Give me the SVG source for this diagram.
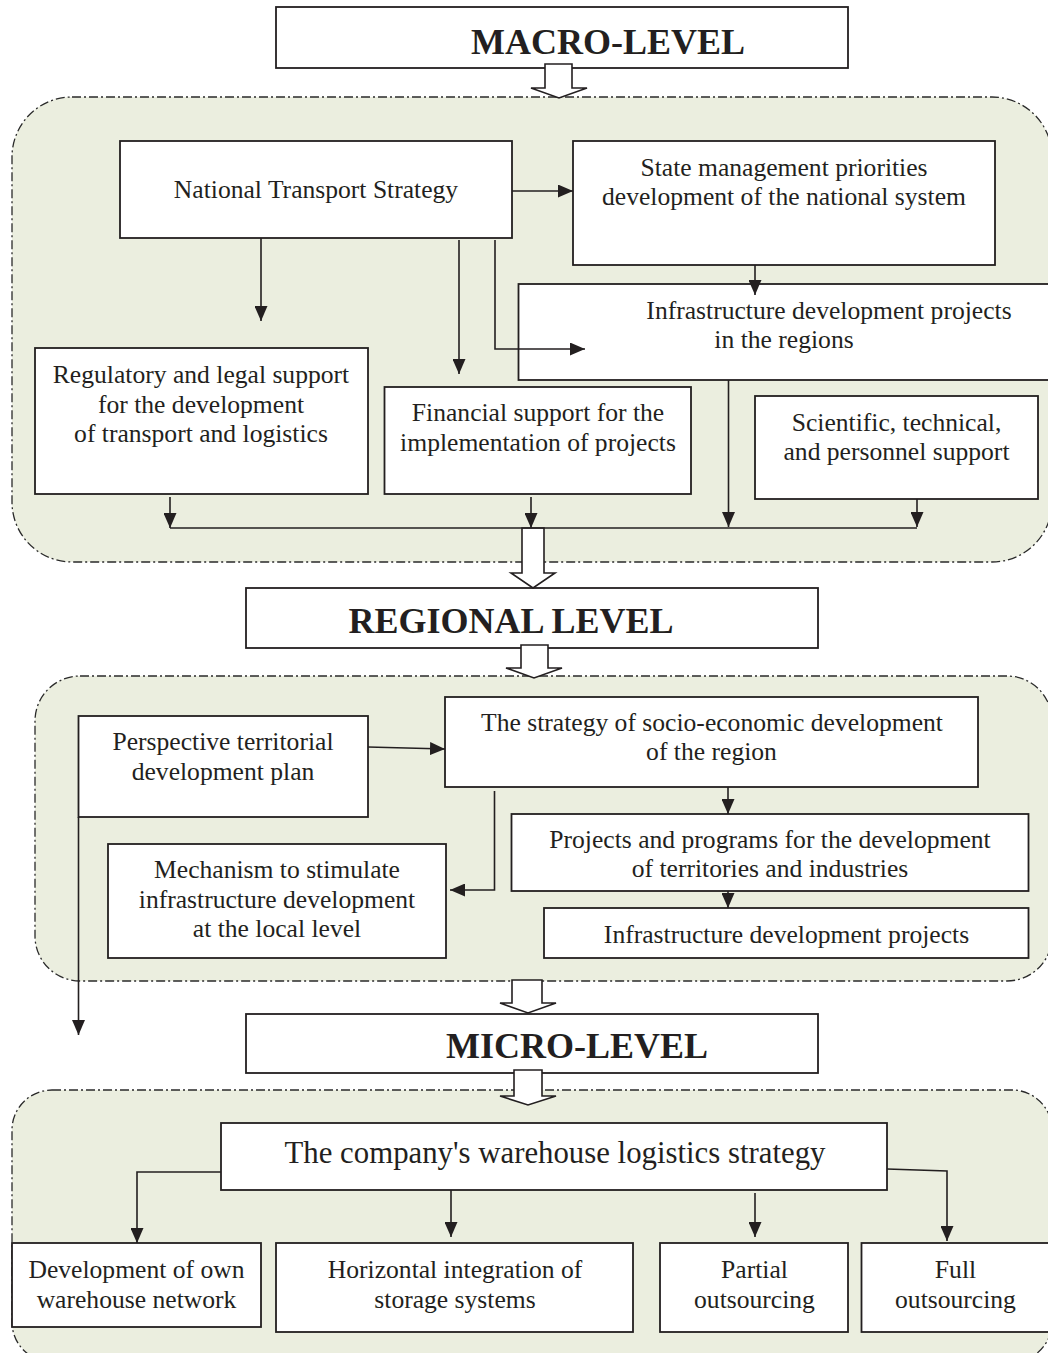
<svg xmlns="http://www.w3.org/2000/svg" width="1048" height="1353" viewBox="0 0 1048 1353">
<defs>
<style>
.cont{fill:#ebeedf;stroke:#2a2a2a;stroke-width:1.3;stroke-dasharray:9 3 2 3}
.box{fill:#fff;stroke:#231f20;stroke-width:1.8}
.blk{fill:#fff;stroke:#231f20;stroke-width:1.6;stroke-linejoin:miter}
.ln{fill:none;stroke:#231f20;stroke-width:1.6}
.ar{fill:none;stroke:#231f20;stroke-width:1.6;marker-end:url(#ah)}
text{font-family:"Liberation Serif","Times New Roman",serif;fill:#231f20;text-anchor:middle}
.t{font-size:25.6px}
.tl{font-size:30.8px}
.h{font-size:36px;font-weight:bold}
</style>
<marker id="ah" markerUnits="userSpaceOnUse" markerWidth="15" markerHeight="13" refX="15" refY="6.5" orient="auto">
<path d="M0,0 L15,6.5 L0,13 z" fill="#231f20"/>
</marker>
</defs>

<!-- containers -->
<rect class="cont" x="12" y="97" width="1040" height="465" rx="60" ry="60"/>
<rect class="cont" x="35" y="676" width="1017" height="305" rx="45" ry="45"/>
<rect class="cont" x="12" y="1090" width="1040" height="272" rx="40" ry="40"/>

<!-- level titles -->
<g id="macro-level">
<rect class="box" x="276" y="7" width="572" height="61"/>
<text class="h" x="608" y="54">MACRO-LEVEL</text>
</g>
<g id="regional-level">
<rect class="box" x="246" y="588" width="572" height="60"/>
<text class="h" x="511" y="633">REGIONAL LEVEL</text>
</g>
<g id="micro-level">
<rect class="box" x="246" y="1014" width="572" height="59"/>
<text class="h" x="577" y="1058">MICRO-LEVEL</text>
</g>

<!-- macro nodes -->
<g id="national-transport-strategy">
<rect class="box" x="120" y="141" width="392" height="97"/>
<text class="t" x="316" y="198">National Transport Strategy</text>
</g>
<g id="state-management">
<rect class="box" x="573" y="141" width="422" height="124"/>
<text class="t" x="784" y="176">State management priorities</text>
<text class="t" x="784" y="205">development of the national system</text>
</g>
<g id="infrastructure-regions">
<rect class="box" x="518.5" y="284" width="540" height="96"/>
<text class="t" x="829" y="319">Infrastructure development projects</text>
<text class="t" x="784" y="348">in the regions</text>
</g>
<g id="regulatory-support">
<rect class="box" x="35" y="348" width="333" height="146"/>
<text class="t" x="201" y="383">Regulatory and legal support</text>
<text class="t" x="201" y="413">for the development</text>
<text class="t" x="201" y="442">of transport and logistics</text>
</g>
<g id="financial-support">
<rect class="box" x="384.5" y="387" width="306.5" height="107"/>
<text class="t" x="538" y="421">Financial support for the</text>
<text class="t" x="538" y="451">implementation of projects</text>
</g>
<g id="scientific-support">
<rect class="box" x="755" y="396" width="283" height="103"/>
<text class="t" x="896.5" y="431">Scientific, technical,</text>
<text class="t" x="896.5" y="460">and personnel support</text>
</g>

<!-- regional nodes -->
<g id="perspective-plan">
<rect class="box" x="78.5" y="716" width="289.5" height="101"/>
<text class="t" x="223" y="750">Perspective territorial</text>
<text class="t" x="223" y="780">development plan</text>
</g>
<g id="socio-economic-strategy">
<rect class="box" x="445" y="697" width="533" height="90"/>
<text class="t" x="712" y="731">The strategy of socio-economic development</text>
<text class="t" x="711.5" y="760">of the region</text>
</g>
<g id="projects-programs">
<rect class="box" x="511.5" y="814" width="517" height="77"/>
<text class="t" x="770" y="848">Projects and programs for the development</text>
<text class="t" x="770" y="877">of territories and industries</text>
</g>
<g id="infrastructure-projects">
<rect class="box" x="544" y="908" width="484.5" height="50"/>
<text class="t" x="786.5" y="943">Infrastructure development projects</text>
</g>
<g id="mechanism">
<rect class="box" x="108" y="844" width="338" height="114"/>
<text class="t" x="277" y="878">Mechanism to stimulate</text>
<text class="t" x="277" y="908">infrastructure development</text>
<text class="t" x="277" y="937">at the local level</text>
</g>

<!-- micro nodes -->
<g id="warehouse-strategy">
<rect class="box" x="221" y="1123" width="666" height="67"/>
<text class="tl" x="555" y="1163">The company's warehouse logistics strategy</text>
</g>
<g id="own-network">
<rect class="box" x="12" y="1243" width="249" height="84"/>
<text class="t" x="136.5" y="1278">Development of own</text>
<text class="t" x="136.5" y="1308">warehouse network</text>
</g>
<g id="horizontal-integration">
<rect class="box" x="276" y="1243" width="357" height="89"/>
<text class="t" x="455" y="1278">Horizontal integration of</text>
<text class="t" x="455" y="1308">storage systems</text>
</g>
<g id="partial-outsourcing">
<rect class="box" x="660" y="1243" width="188" height="89"/>
<text class="t" x="754.5" y="1278">Partial</text>
<text class="t" x="754.5" y="1308">outsourcing</text>
</g>
<g id="full-outsourcing">
<rect class="box" x="861.5" y="1243" width="196" height="89"/>
<text class="t" x="955.5" y="1278">Full</text>
<text class="t" x="955.5" y="1308">outsourcing</text>
</g>

<!-- connectors -->
<g id="connectors">
<polygon class="blk" points="545,64 572,64 572,88 587,88 559,98 531,88 545,88"/>
<polygon class="blk" points="522,528 544,528 544,573 555,573 533,588 511,573 522,573"/>
<polygon class="blk" points="521,645 548,645 548,668 562,668 534,678 506,668 521,668"/>
<polygon class="blk" points="512,980 542,980 542,1003 556,1003 528,1013 500,1003 512,1003"/>
<polygon class="blk" points="514,1070 542,1070 542,1096 556,1096 528,1105 500,1096 514,1096"/>

<path class="ar" d="M512,191 H573"/>
<path class="ar" d="M261,238 V321"/>
<path class="ar" d="M459,240 V374"/>
<path class="ar" d="M495,240 V349 H585"/>
<path class="ar" d="M755,265 V295"/>
<path class="ar" d="M170,497 V528"/>
<path class="ar" d="M531,497 V528"/>
<path class="ar" d="M728.5,380 V527"/>
<path class="ar" d="M917,499 V527"/>
<path class="ln" d="M170,528 H917"/>

<path class="ar" d="M368,747 L445,749"/>
<path class="ar" d="M728,787 V814"/>
<path class="ar" d="M728,891 V908"/>
<path class="ar" d="M494.5,791 V890 H450"/>
<path class="ar" d="M78.5,817 V1035"/>

<path class="ar" d="M221,1172 H137 V1243"/>
<path class="ar" d="M451,1190 V1237"/>
<path class="ar" d="M755,1193 V1237"/>
<path class="ar" d="M887,1169 L947,1171 V1241"/>
</g>
</svg>
